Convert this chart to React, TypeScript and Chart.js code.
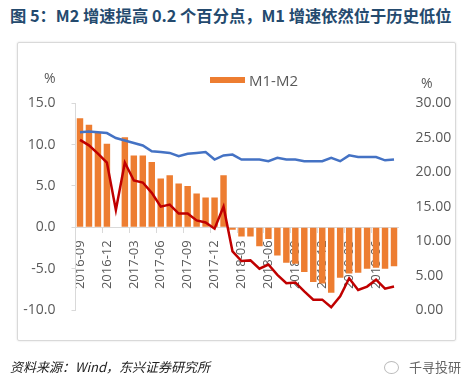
import React, { useEffect, useRef } from 'react';
import { Chart, registerables } from 'chart.js';

Chart.register(...registerables);

const months = [
  '2016-09', '2016-10', '2016-11', '2016-12', '2017-01', '2017-02', '2017-03', '2017-04', '2017-05',
  '2017-06', '2017-07', '2017-08', '2017-09', '2017-10', '2017-11', '2017-12', '2018-01', '2018-02',
  '2018-03', '2018-04', '2018-05', '2018-06', '2018-07', '2018-08', '2018-09', '2018-10', '2018-11',
  '2018-12', '2019-01', '2019-02', '2019-03', '2019-04', '2019-05', '2019-06', '2019-07', '2019-08',
];

// M1-M2 (left axis, bars)
const m1m2 = [
  13.2, 12.4, 11.4, 10.1, null, 10.9, 8.7, 8.7, 7.9, 5.9, 6.3, 5.3, 5.0, 4.1, 3.6, 3.6, 6.3, -0.3,
  -1.1, -1.1, -2.3, -1.4, -3.4, -4.3, -4.4, -5.4, -6.6, -6.8, -7.9, -6.1, -5.6, -5.5, -5.0, -4.9, -5.0, -4.7,
];

// M2 yoy (left axis, blue line)
const m2 = [
  11.5, 11.6, 11.5, 11.4, 10.8, 10.5, 10.2, 9.9, 9.2, 9.1, 9.0, 8.6, 8.9, 9.0, 9.1, 8.2, 8.7, 8.8,
  8.2, 8.2, 8.2, 8.0, 8.4, 8.2, 8.2, 8.0, 8.0, 8.0, 8.4, 8.0, 8.7, 8.5, 8.5, 8.5, 8.1, 8.2,
];

// M1 yoy (right axis, red line)
const m1 = [
  24.7, 23.9, 22.7, 21.4, 14.5, 21.4, 18.8, 18.5, 17.0, 15.0, 15.3, 14.0, 14.0, 13.0, 12.7, 11.8, 15.0, 8.5,
  7.1, 7.2, 6.0, 6.6, 5.1, 3.9, 4.0, 2.7, 1.5, 1.5, 0.4, 2.0, 4.6, 2.9, 3.4, 4.4, 3.1, 3.4,
];

const leftRange = { min: -10, max: 15, step: 5 };
const rightRange = { min: 0, max: 30, step: 5 };

const AXIS_GREY = '#D9D9D9';
const TEXT_GREY = '#595959';

export default function App() {
  const canvasRef = useRef<HTMLCanvasElement | null>(null);

  useEffect(() => {
    if (!canvasRef.current) return;
    const chart = new Chart(canvasRef.current, {
      type: 'bar',
      data: {
        labels: months,
        datasets: [
          {
            type: 'line',
            label: 'M1',
            data: m1,
            yAxisID: 'y1',
            borderColor: '#C00000',
            borderWidth: 2.5,
            pointRadius: 0,
            tension: 0,
            order: 1,
          },
          {
            type: 'line',
            label: 'M2',
            data: m2,
            yAxisID: 'y',
            borderColor: '#4472C4',
            borderWidth: 2.5,
            pointRadius: 0,
            tension: 0,
            order: 2,
          },
          {
            type: 'bar',
            label: 'M1-M2',
            data: m1m2,
            yAxisID: 'y',
            backgroundColor: '#ED7D31',
            borderWidth: 0,
            categoryPercentage: 1,
            barPercentage: 0.72,
            order: 3,
          },
        ],
      },
      options: {
        animation: false,
        responsive: false,
        maintainAspectRatio: false,
        layout: { padding: { top: 103.3, bottom: 75, left: 5, right: 2 } },
        plugins: {
          legend: { display: false },
          tooltip: { enabled: false },
          title: { display: false },
        },
        scales: {
          x: {
            type: 'category',
            position: { y: 0 } as any,
            offset: true,
            z: 1,
            grid: {
              offset: true,
              drawOnChartArea: false,
              drawTicks: true,
              tickLength: 5,
              color: (ctx: any) => (typeof ctx.index === 'number' && ctx.index % 3 === 0 ? AXIS_GREY : 'rgba(0,0,0,0)'),
            },
            border: { display: true, color: AXIS_GREY, width: 1 },
            ticks: {
              autoSkip: false,
              minRotation: 90,
              maxRotation: 90,
              padding: 8,
              color: TEXT_GREY,
              font: { family: 'Open Sans', size: 13 },
              callback: (_v: any, i: number) => (i % 3 === 0 ? months[i] : ''),
            },
            afterFit: (s: any) => {
              s.height = 0;
            },
          },
          y: {
            position: 'left',
            min: leftRange.min,
            max: leftRange.max,
            grid: { drawOnChartArea: false, drawTicks: true, tickLength: 4, color: AXIS_GREY },
            border: { display: true, color: AXIS_GREY, width: 1 },
            ticks: {
              stepSize: leftRange.step,
              padding: 16,
              color: TEXT_GREY,
              font: { family: 'Open Sans', size: 14 },
              callback: (v: any) => Number(v).toFixed(1),
            },
            afterFit: (s: any) => {
              s.width = 70.5;
            },
          },
          y1: {
            position: 'right',
            min: rightRange.min,
            max: rightRange.max,
            grid: { display: false, drawTicks: false, drawOnChartArea: false },
            border: { display: false },
            ticks: {
              stepSize: rightRange.step,
              padding: 17,
              color: TEXT_GREY,
              font: { family: 'Open Sans', size: 14 },
              callback: (v: any) => Number(v).toFixed(2),
            },
            afterFit: (s: any) => {
              s.width = 65.5;
            },
          },
        },
      },
    });
    return () => chart.destroy();
  }, []);

  return (
    <div
      style={{
        position: 'fixed',
        left: 0,
        top: 0,
        width: 466,
        height: 385,
        background: '#fff',
        overflow: 'hidden',
      }}
    >
      <div
        style={{
          position: 'absolute',
          left: 10,
          top: 4,
          fontFamily: '"Noto Sans CJK SC", sans-serif',
          fontWeight: 'bold',
          fontSize: 16.3,
          lineHeight: '22px',
          color: '#244A6E',
          whiteSpace: 'nowrap',
        }}
      >
        图 5：M2 增速提高 0.2 个百分点，M1 增速依然位于历史低位
      </div>
      <div
        style={{
          position: 'absolute',
          left: 17,
          top: 42,
          width: 437,
          height: 297,
          border: '1px solid #D9D9D9',
          borderRadius: 2,
          boxShadow: '0 0 2px rgba(0,0,0,0.15)',
        }}
      />
      <canvas
        ref={canvasRef}
        width={466}
        height={385}
        style={{ position: 'absolute', left: 0, top: 0, width: 466, height: 385 }}
      />
      <div
        style={{
          position: 'absolute',
          left: 210,
          top: 77,
          width: 35,
          height: 6,
          background: '#ED7D31',
        }}
      />
      <div
        style={{
          position: 'absolute',
          left: 249,
          top: 70,
          fontFamily: '"Open Sans", sans-serif',
          fontSize: 15,
          lineHeight: '20px',
          color: TEXT_GREY,
          whiteSpace: 'nowrap',
        }}
      >
        M1-M2
      </div>
      <div
        style={{
          position: 'absolute',
          left: 44,
          top: 68,
          fontFamily: '"Open Sans", sans-serif',
          fontSize: 14,
          lineHeight: '20px',
          color: TEXT_GREY,
        }}
      >
        %
      </div>
      <div
        style={{
          position: 'absolute',
          left: 421,
          top: 73,
          fontFamily: '"Open Sans", sans-serif',
          fontSize: 14,
          lineHeight: '20px',
          color: TEXT_GREY,
        }}
      >
        %
      </div>
      <div
        style={{
          position: 'absolute',
          left: 10,
          top: 357,
          fontFamily: '"Noto Sans CJK SC", sans-serif',
          fontStyle: 'italic',
          fontSize: 13,
          lineHeight: '20px',
          color: '#222',
          whiteSpace: 'nowrap',
        }}
      >
        资料来源：Wind，东兴证券研究所
      </div>
      <div
        style={{
          position: 'absolute',
          left: 384,
          top: 357,
          fontFamily: '"Noto Sans CJK SC", sans-serif',
          fontSize: 13,
          lineHeight: '20px',
          color: '#666',
          whiteSpace: 'nowrap',
          display: 'flex',
          alignItems: 'center',
        }}
      >
        <span
          style={{
            display: 'inline-block',
            width: 13,
            height: 11,
            border: '1px solid #bbb',
            borderRadius: '50%',
            marginRight: 10,
          }}
        />
        千寻投研
      </div>
    </div>
  );
}
